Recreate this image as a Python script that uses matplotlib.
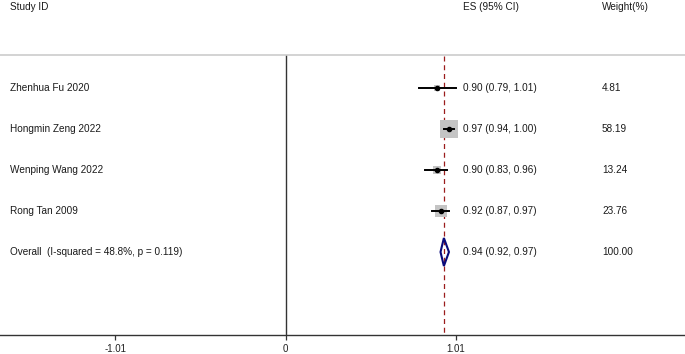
import matplotlib
matplotlib.use("Agg")
import matplotlib.pyplot as plt
from matplotlib.patches import Polygon

plt.rcParams['font.family'] = ['Liberation Sans', 'DejaVu Sans']

studies = ["Zhenhua Fu 2020", "Hongmin Zeng 2022", "Wenping Wang 2022", "Rong Tan 2009"]
es = [0.90, 0.97, 0.90, 0.92]
lo = [0.79, 0.94, 0.83, 0.87]
hi = [1.01, 1.00, 0.96, 0.97]
weights = [4.81, 58.19, 13.24, 23.76]
overall_label = "Overall  (I-squared = 48.8%, p = 0.119)"
overall = (0.94, 0.92, 0.97)
overall_weight = 100.00
tick_vals = [-1.01, 0, 1.01]
tick_labels = ["-1.01", "0", "1.01"]

W, H = 685, 354
fig = plt.figure(figsize=(W / 100, H / 100), dpi=100)
axis_px = 334.5
ax = fig.add_axes([0, (H - axis_px) / H, 1, axis_px / H])

scale = 168.5
x0 = 285.5
ax.set_xlim(-x0 / scale, (W - x0) / scale)
row_px0, row_step = 88, 41
def py(p):
    return (p - row_px0) / row_step
ax.set_ylim(py(axis_px), py(0))

for s in ['top', 'left', 'right']:
    ax.spines[s].set_visible(False)
ax.spines['bottom'].set_color('#333333')
ax.spines['bottom'].set_linewidth(1.0)
ax.set_yticks([])
ax.set_xticks(tick_vals)
ax.set_xticklabels(tick_labels)
ax.tick_params(axis='x', length=3.5, width=0.9, color='#333333', labelsize=7.0, pad=3.5, labelcolor='#222222')

fs = 7.2
tc = '#1a1a1a'
x_lab = (10 - x0) / scale
x_es = (463 - x0) / scale
x_w = (602 - x0) / scale

# header
ax.text(x_lab, py(7), "Study ID", fontsize=fs, color=tc, va='center', ha='left')
ax.text(x_es, py(7), "ES (95% CI)", fontsize=fs, color=tc, va='center', ha='left')
ax.text(x_w, py(7), "Weight(%)", fontsize=fs, color=tc, va='center', ha='left')

# header separator
ax.axhline(py(55), color='#cccccc', lw=1.2)

# reference lines
ax.plot([0, 0], [py(56), py(axis_px)], color='#333333', lw=1.0)
ax.plot([overall[0], overall[0]], [py(56), py(axis_px)], color='#9b1c1c', lw=0.9, ls=(0, (4, 3)))

for i, (name, e, l, h, w) in enumerate(zip(studies, es, lo, hi, weights)):
    ax.scatter([e], [i], s=3.1 * w, marker='s', color='#c4c4c4', zorder=3, linewidths=0)
    ax.plot([l, h], [i, i], color='black', lw=1.4, zorder=4)
    ax.plot([e], [i], marker='o', ms=3, color='black', zorder=5)
    ax.text(x_lab, i, name, fontsize=fs, color=tc, va='center', ha='left')
    ax.text(x_es, i, f"{e:.2f} ({l:.2f}, {h:.2f})", fontsize=fs, color=tc, va='center', ha='left')
    ax.text(x_w, i, f"{w:.2f}", fontsize=fs, color=tc, va='center', ha='left')

yo = len(studies)
hh = 14 / row_step
e, l, h = overall
diamond = Polygon([[l, yo], [e, yo - hh], [h, yo], [e, yo + hh]], closed=True,
                  facecolor='none', edgecolor='#0a0a7a', lw=1.5, zorder=5)
ax.add_patch(diamond)
ax.text(x_lab, yo, overall_label, fontsize=fs, color=tc, va='center', ha='left')
ax.text(x_es, yo, f"{e:.2f} ({l:.2f}, {h:.2f})", fontsize=fs, color=tc, va='center', ha='left')
ax.text(x_w, yo, f"{overall_weight:.2f}", fontsize=fs, color=tc, va='center', ha='left')

fig.savefig("out.png", dpi=100)
